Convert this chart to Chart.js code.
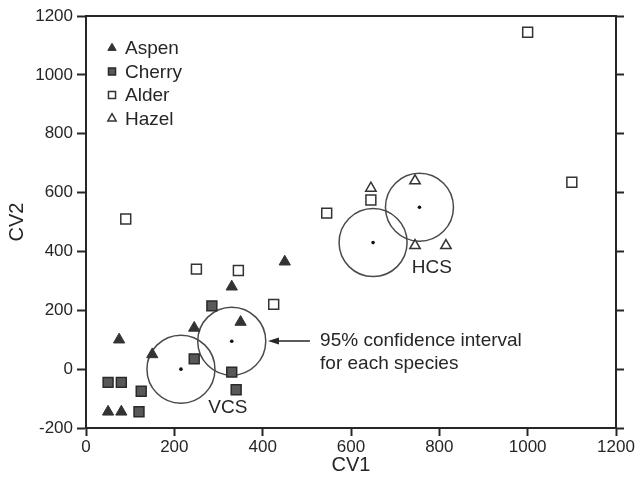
<!DOCTYPE html>
<html>
<head>
<meta charset="utf-8">
<script src="https://cdn.jsdelivr.net/npm/chart.js@4.4.1/dist/chart.umd.min.js"></script>
<style>
  body { margin: 0; background: #fff; }
  #wrap { width: 641px; height: 482px; }
</style>
</head>
<body>
<div id="wrap"><canvas id="cv-chart"></canvas></div>
<script>
// values (CV1 / CV2)
const xTicks = [0, 200, 400, 600, 800, 1000, 1200];
const yTicks = [-200, 0, 200, 400, 600, 800, 1000, 1200];

const aspenX = [75, 150, 50, 80, 245, 330, 350, 450];
const aspenY = [100, 50, -145, -145, 140, 280, 160, 365];

const cherryX = [50, 80, 125, 120, 245, 285, 330, 340];
const cherryY = [-45, -45, -75, -145, 35, 215, -10, -70];

const alderX = [90, 250, 345, 425, 545, 645, 1000, 1100];
const alderY = [510, 340, 335, 220, 530, 575, 1145, 635];

const hazelX = [645, 745, 745, 815];
const hazelY = [615, 640, 420, 420];

// centres of the 95% confidence circles
const ciX = [215, 330, 650, 755];
const ciY = [0, 95, 430, 550];

// text notes, placed in data units
const notes = [
  { text: 'VCS', x: 321, y: -132, align: 'center' },
  { text: 'HCS', x: 783, y: 344, align: 'center' },
  { text: '95% confidence interval', x: 530, y: 96, align: 'left' },
  { text: 'for each species', x: 530, y: 17, align: 'left' }
];
const arrow = { fromX: 507, toX: 412, y: 96 };

const pts = (xs, ys) => xs.map((x, i) => ({ x: x, y: ys[i] }));

const FONT = '"Liberation Sans", Arial, Helvetica, sans-serif';
const INK = '#262626';

// fixed box sizes so the plot frame lands where the figure has it
const fixBox = (size) => (s) => {
  if (s.isHorizontal()) s.height = size; else s.width = size;
  s.paddingLeft = 0; s.paddingRight = 0; s.paddingTop = 0; s.paddingBottom = 0;
};

//legend + notes drawn on top of the plot
const extras = {
  id: 'extras',
  afterDatasetsDraw(chart) {
    const { ctx, chartArea, scales } = chart;
    const h = Chart.helpers;
    ctx.save();

    // legend
    ctx.font = '19px ' + FONT;
    ctx.textBaseline = 'middle';
    ctx.textAlign = 'left';
    chart.data.datasets.slice(0, 4).forEach((ds, i) => {
      const x = chartArea.left + 26;
      const y = chartArea.top + 32 + i * 23.5;
      ctx.fillStyle = ds.backgroundColor;
      ctx.strokeStyle = ds.borderColor;
      ctx.lineWidth = ds.borderWidth;
      h.drawPoint(ctx, {
        pointStyle: ds.pointStyle,
        radius: ds.pointStyle === 'rect' ? 5 : 4.8,
        rotation: 0,
        borderWidth: ds.borderWidth
      }, x, y);
      ctx.fillStyle = INK;
      ctx.fillText(ds.label, x + 13, y + 1);
    });

    // notes
    notes.forEach(n => {
      ctx.textAlign = n.align;
      ctx.fillText(n.text, scales.x.getPixelForValue(n.x), scales.y.getPixelForValue(n.y));
    });

    // arrow pointing at the VCS circle
    const x0 = scales.x.getPixelForValue(arrow.fromX);
    const x1 = scales.x.getPixelForValue(arrow.toX);
    const ay = scales.y.getPixelForValue(arrow.y);
    ctx.strokeStyle = INK;
    ctx.lineWidth = 1.5;
    ctx.beginPath();
    ctx.moveTo(x0, ay);
    ctx.lineTo(x1 + 8, ay);
    ctx.stroke();
    ctx.beginPath();
    ctx.moveTo(x1, ay);
    ctx.lineTo(x1 + 11, ay - 3.5);
    ctx.lineTo(x1 + 11, ay + 3.5);
    ctx.closePath();
    ctx.fill();

    ctx.restore();
  }
};

const ctxCv = document.getElementById('cv-chart');

new Chart(ctxCv, {
  type: 'scatter',
  data: {
    datasets: [{
      label: 'Aspen',
      data: pts(aspenX, aspenY),
      pointStyle: 'triangle',
      pointRadius: 6.5,
      backgroundColor: '#333',
      borderColor: '#333',
      borderWidth: 1
    },
    {
      label: 'Cherry',
      data: pts(cherryX, cherryY),
      pointStyle: 'rect',
      pointRadius: 7,
      backgroundColor: '#585858',
      borderColor: '#2a2a2a',
      borderWidth: 1.5
    },
    {
      label: 'Alder',
      data: pts(alderX, alderY),
      pointStyle: 'rect',
      pointRadius: 7,
      backgroundColor: '#fff',
      borderColor: '#333',
      borderWidth: 1.5
    },
    {
      label: 'Hazel',
      data: pts(hazelX, hazelY),
      pointStyle: 'triangle',
      pointRadius: 6,
      backgroundColor: '#fff',
      borderColor: '#333',
      borderWidth: 1.5
    },
    {
      label: 'ci',
      data: pts(ciX, ciY),
      pointStyle: 'circle',
      pointRadius: 34,
      backgroundColor: 'rgba(0,0,0,0)',
      borderColor: '#4a4a4a',
      borderWidth: 1.5
    },
    {
      label: 'centre',
      data: pts(ciX, ciY),
      pointStyle: 'circle',
      pointRadius: 1.8,
      backgroundColor: '#111',
      borderColor: '#111',
      borderWidth: 0
    }]
  },

  options: {
    responsive: true,
    maintainAspectRatio: false,
    animation: false,
    events: [],
    layout: { padding: 0, autoPadding: false },
    plugins: {
      legend: { display: false },
      tooltip: { enabled: false }
    },
    scales: {
      x: {
        type: 'linear',
        position: 'bottom',
        min: xTicks[0],
        max: xTicks[xTicks.length - 1],
        afterBuildTicks: s => { s.ticks = xTicks.map(v => ({ value: v })); },
        afterFit: fixBox(54),
        grid: { drawOnChartArea: false, tickLength: 8, tickWidth: 2, tickColor: INK },
        border: { color: INK, width: 2 },
        ticks: {
          color: INK, padding: 1, maxRotation: 0,
          font: { family: FONT, size: 17 },
          callback: v => String(v)
        },
        title: {
          display: true,
          text: 'CV1',
          color: INK,
          padding: { top: 0, bottom: 5 },
          font: { family: FONT, size: 20 }
        }
      },
      y: {
        type: 'linear',
        position: 'left',
        min: yTicks[0],
        max: yTicks[yTicks.length - 1],
        afterBuildTicks: s => { s.ticks = yTicks.map(v => ({ value: v })); },
        afterFit: fixBox(86),
        grid: { drawOnChartArea: false, tickLength: 9, tickWidth: 2, tickColor: INK },
        border: { color: INK, width: 2 },
        ticks: {
          color: INK, padding: 4,
          font: { family: FONT, size: 17 },
          callback: v => String(v)
        },
        title: {
          display: true,
          text: 'CV2',
          color: INK,
          padding: { top: 5, bottom: 0 },
          font: { family: FONT, size: 20 }
        }
      },
      xTop: {
        type: 'linear',
        position: 'top',
        min: xTicks[0],
        max: xTicks[xTicks.length - 1],
        afterFit: fixBox(16),
        grid: { display: false },
        border: { color: INK, width: 2 },
        ticks: { display: false }
      },
      yRight: {
        type: 'linear',
        position: 'right',
        min: yTicks[0],
        max: yTicks[yTicks.length - 1],
        afterBuildTicks: s => { s.ticks = yTicks.map(v => ({ value: v })); },
        afterFit: fixBox(25),
        grid: { drawOnChartArea: false, tickLength: 8, tickWidth: 2, tickColor: INK },
        border: { color: INK, width: 2 },
        ticks: { display: false }
      }
    }
  },
  plugins: [extras]
});
</script>
</body>
</html>
